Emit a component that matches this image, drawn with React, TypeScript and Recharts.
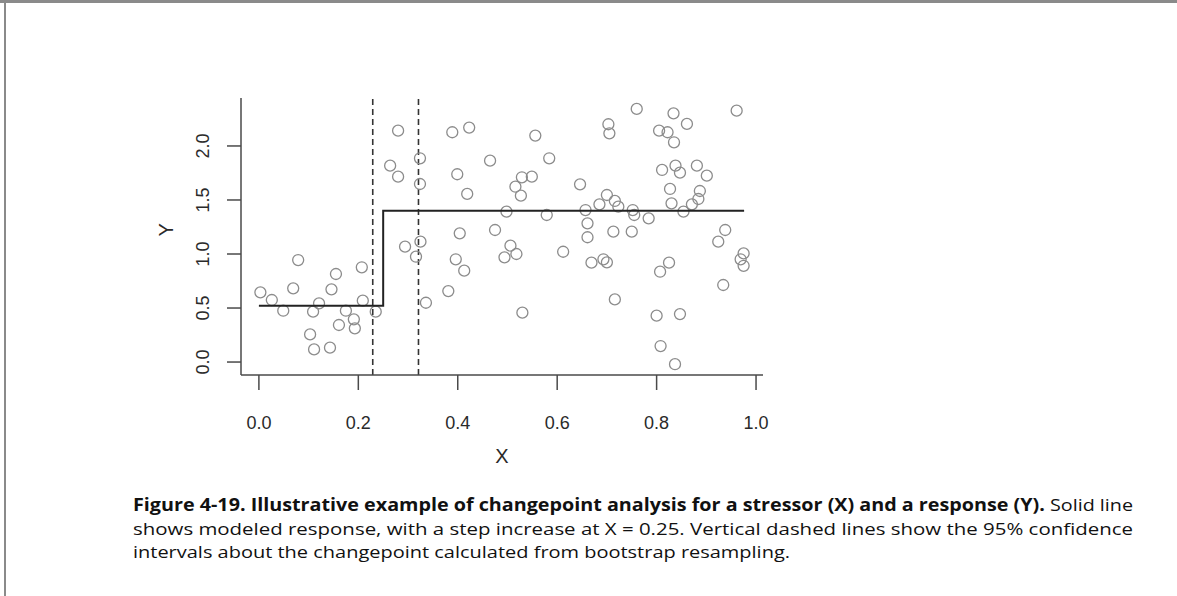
import { ScatterChart, Scatter, XAxis, YAxis, ReferenceLine } from 'recharts'

// observed stressor (X) values
const obsX = [
  0.003, 0.026, 0.049, 0.069, 0.079, 0.103, 0.109, 0.111, 0.121, 0.143,
  0.146, 0.155, 0.161, 0.175, 0.191, 0.193, 0.207, 0.209, 0.235, 0.264,
  0.28, 0.28, 0.294, 0.316, 0.324, 0.324, 0.325, 0.336, 0.381, 0.389,
  0.396, 0.399, 0.404, 0.413, 0.419, 0.423, 0.465, 0.475, 0.494, 0.498,
  0.506, 0.516, 0.518, 0.527, 0.529, 0.53, 0.549, 0.556, 0.579, 0.584,
  0.612, 0.646, 0.657, 0.661, 0.661, 0.669, 0.685, 0.693, 0.7, 0.7,
  0.703, 0.705, 0.713, 0.716, 0.716, 0.723, 0.75, 0.752, 0.755, 0.76,
  0.784, 0.8, 0.805, 0.807, 0.808, 0.811, 0.822, 0.825, 0.827, 0.83,
  0.834, 0.835, 0.837, 0.838, 0.847, 0.847, 0.854, 0.861, 0.871, 0.881,
  0.884, 0.887, 0.901, 0.924, 0.934, 0.938, 0.961, 0.969, 0.975, 0.975,
]

// observed response (Y) values
const obsY = [
  0.645, 0.574, 0.475, 0.682, 0.944, 0.256, 0.466, 0.117, 0.543, 0.133,
  0.673, 0.815, 0.343, 0.475, 0.395, 0.312, 0.877, 0.568, 0.466, 1.818,
  2.142, 1.716, 1.068, 0.975, 1.886, 1.648, 1.114, 0.549, 0.657, 2.127,
  0.951, 1.738, 1.191, 0.846, 1.556, 2.17, 1.864, 1.222, 0.969, 1.392,
  1.077, 1.623, 1.0, 1.54, 1.71, 0.457, 1.716, 2.096, 1.361, 1.886,
  1.021, 1.645, 1.407, 1.284, 1.155, 0.92, 1.46, 0.951, 0.923, 1.546,
  2.201, 2.117, 1.207, 1.491, 0.58, 1.438, 1.207, 1.407, 1.361, 2.343,
  1.33, 0.429, 2.142, 0.836, 0.148, 1.778, 2.127, 0.92, 1.602, 1.469,
  2.302, 2.034, -0.02, 1.818, 1.753, 0.444, 1.392, 2.204, 1.46, 1.818,
  1.509, 1.583, 1.725, 1.114, 0.713, 1.222, 2.327, 0.951, 1.006, 0.891,
]

// modeled step response
const stepX = [0.0, 0.25, 0.25, 0.976]
const stepY = [0.52, 0.52, 1.4, 1.4]

// bootstrap 95% interval of the changepoint
const ciBounds = [0.229, 0.321]

const xTicks = [0, 0.2, 0.4, 0.6, 0.8, 1.0]
const yTicks = [0, 0.5, 1.0, 1.5, 2.0]

const points = obsX.map((x, i) => ({ x, y: obsY[i] }))
const step = stepX.map((x, i) => ({ x, y: stepY[i] }))

const AXIS = '#4a4a4a'
const TEXT = '#2a2a2a'
const FONT = 'Liberation Sans, Arial, sans-serif'

function OpenCircle(props: any) {
  const { cx, cy } = props
  return <circle cx={cx} cy={cy} r={5.5} fill="none" stroke="#8c8c8c" strokeWidth={1.3} />
}

function XTick(props: any) {
  const { x, y, payload } = props
  return (
    <text x={x} y={y + 37} textAnchor="middle" fill={TEXT} fontSize={18} fontFamily={FONT}>
      {payload.value.toFixed(1)}
    </text>
  )
}

function YTick(props: any) {
  const { x, y, payload } = props
  return (
    <g transform={`translate(${x - 16},${y})`}>
      <text transform="rotate(-90)" textAnchor="middle" fill={TEXT} fontSize={18} style={{ fontFamily: FONT }}>
        {payload.value.toFixed(1)}
      </text>
    </g>
  )
}

export default function App() {
  return (
    <div style={{ position: 'absolute', left: 0, top: 0, width: 1177, height: 596, background: '#fff', overflow: 'hidden' }}>
      <ScatterChart width={1177} height={596} margin={{ top: 98, right: 414, bottom: 161, left: 181 }}>
        <XAxis
          type="number"
          dataKey="x"
          domain={[-0.036, 1.014]}
          ticks={xTicks}
          allowDataOverflow
          height={60}
          tickSize={15}
          tick={<XTick />}
          axisLine={{ stroke: AXIS, strokeWidth: 1.5 }}
          tickLine={{ stroke: AXIS, strokeWidth: 1.5 }}
          label={{ value: 'X', position: 'insideBottom', offset: -28, fill: TEXT, fontSize: 20, fontFamily: FONT }}
        />
        <YAxis
          type="number"
          dataKey="y"
          domain={[-0.12, 2.444]}
          ticks={yTicks}
          allowDataOverflow
          width={60}
          tickSize={14}
          tick={<YTick />}
          axisLine={{ stroke: AXIS, strokeWidth: 1.5 }}
          tickLine={{ stroke: AXIS, strokeWidth: 1.5 }}
          label={{ value: 'Y', angle: -90, position: 'insideLeft', offset: -15, fill: TEXT, fontSize: 20, fontFamily: FONT }}
        />
        {ciBounds.map((b) => (
          <ReferenceLine key={b} x={b} stroke="#333" strokeWidth={1.6} strokeDasharray="6 4" />
        ))}
        <Scatter data={points} shape={OpenCircle} isAnimationActive={false} />
        <Scatter
          data={step}
          line={{ stroke: '#222', strokeWidth: 2 }}
          lineType="joint"
          shape={() => <g />}
          isAnimationActive={false}
        />
      </ScatterChart>
      <svg width={1177} height={596} style={{ position: 'absolute', left: 0, top: 0, pointerEvents: 'none' }}>
        <line x1={0} y1={1.5} x2={1177} y2={1.5} stroke="#8a8a8a" strokeWidth={3} />
        <line x1={5} y1={0} x2={5} y2={596} stroke="#8a8a8a" strokeWidth={2} />
        <g fontFamily="Open Sans, Noto Sans, sans-serif" fontSize={17} fill="#111" style={{ whiteSpace: 'pre' }}>
          <text x={133} y={511} textLength={1000} lengthAdjust="spacingAndGlyphs">
            <tspan fontWeight="bold">{'Figure 4-19.  Illustrative example of changepoint analysis for a stressor (X) and a response (Y).'}</tspan>
            <tspan>{'  Solid line'}</tspan>
          </text>
          <text x={133} y={535} textLength={1000} lengthAdjust="spacingAndGlyphs">
            {'shows modeled response, with a step increase at X = 0.25.  Vertical dashed lines show the 95% confidence'}
          </text>
          <text x={133} y={558} textLength={657} lengthAdjust="spacingAndGlyphs">
            {'intervals about the changepoint calculated from bootstrap resampling.'}
          </text>
        </g>
      </svg>
    </div>
  )
}
